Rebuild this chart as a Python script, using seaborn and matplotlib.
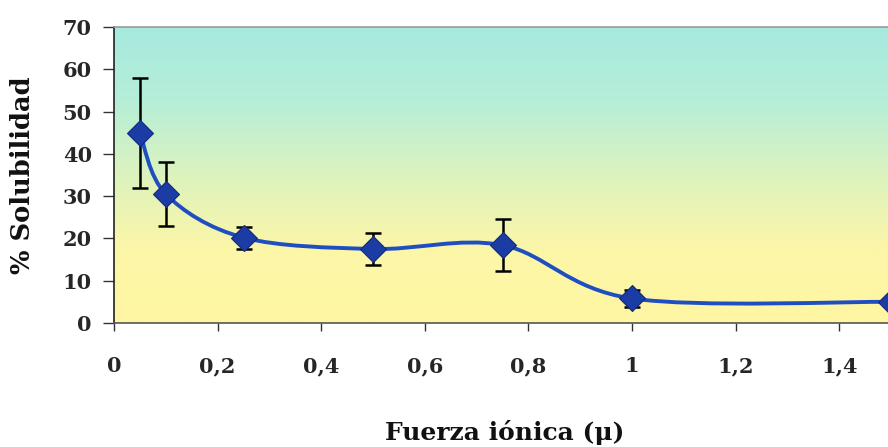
import numpy as np
import matplotlib
matplotlib.use("Agg")
import matplotlib.pyplot as plt
from matplotlib.path import Path
from matplotlib.patches import PathPatch
from matplotlib.colors import LinearSegmentedColormap
import seaborn as sns
import pandas as pd

# Solubility vs ionic strength
fuerza_ionica = [0.05, 0.1, 0.25, 0.5, 0.75, 1.0, 1.5]
solubilidad = [45.0, 30.5, 20.2, 17.5, 18.4, 5.8, 5.0]
error = [13.0, 7.5, 2.6, 3.8, 6.2, 1.9, 1.0]

x_ticks = [0, 0.2, 0.4, 0.6, 0.8, 1.0, 1.2, 1.4]
x_tick_labels = ["0", "0,2", "0,4", "0,6", "0,8", "1", "1,2", "1,4"]
y_ticks = [0, 10, 20, 30, 40, 50, 60, 70]

df = pd.DataFrame({"mu": fuerza_ionica, "sol": solubilidad, "err": error})

sns.set_theme(style="white")
plt.rcParams["font.family"] = ["DejaVu Serif"]
plt.rcParams["font.weight"] = "bold"

W, H = 888, 447
fig = plt.figure(figsize=(W / 100, H / 100), dpi=100)
fig.patch.set_facecolor("white")
left, top, bottom = 114, 27, 323
x_max = 1.5
px_per_unit = 518
ax_w = x_max * px_per_unit
ax_h = bottom - top
ax = fig.add_axes([left / W, (H - bottom) / H, ax_w / W, ax_h / H])

ax.set_xlim(0, x_max)
ax.set_ylim(0, 70)

# vertical cyan-to-yellow background
cmap = LinearSegmentedColormap.from_list(
    "fondo",
    [(0.0, "#fff6a2"), (0.25, "#fcf6a8"), (0.5, "#dcf3be"),
     (0.75, "#b6eed8"), (1.0, "#a6eadf")])
grad = np.linspace(0, 1, 256).reshape(-1, 1)
ax.imshow(grad, cmap=cmap, aspect="auto", origin="lower",
          extent=[0, x_max, 0, 70], zorder=0)

# smoothed connecting curve (cubic Bezier through the points)
pts = np.column_stack([fuerza_ionica, solubilidad])
n = len(pts)
verts = [tuple(pts[0])]
codes = [Path.MOVETO]
for i in range(n - 1):
    p_prev = pts[max(i - 1, 0)]
    p0 = pts[i]
    p1 = pts[i + 1]
    p_next = pts[min(i + 2, n - 1)]
    c1 = p0 + (p1 - p_prev) / 6.0
    c2 = p1 - (p_next - p0) / 6.0
    verts += [tuple(c1), tuple(c2), tuple(p1)]
    codes += [Path.CURVE4] * 3
ax.add_patch(PathPatch(Path(verts, codes), facecolor="none",
                       edgecolor="#1f4ec2", lw=2.8, zorder=2,
                       capstyle="round", joinstyle="round"))

ax.errorbar(df["mu"], df["sol"], yerr=df["err"], fmt="none",
            ecolor="black", elinewidth=1.8, capsize=5.5, capthick=1.8,
            zorder=3)
sns.scatterplot(data=df, x="mu", y="sol", marker="D", s=175,
                color="#1b3ca4", edgecolor="#122c80", linewidth=0.8,
                ax=ax, zorder=4, legend=False)

ax.set_xticks(x_ticks)
ax.set_xticklabels(x_tick_labels)
ax.set_yticks(y_ticks)
ax.tick_params(axis="x", direction="out", length=6, width=1.0,
               color="#333333", pad=18, labelsize=15)
ax.tick_params(axis="y", direction="out", length=8, width=1.0,
               color="#333333", pad=8, labelsize=15)
ax.tick_params(left=True, bottom=True)
for lab in ax.get_xticklabels() + ax.get_yticklabels():
    lab.set_fontweight("bold")

for side in ["left", "bottom", "top"]:
    ax.spines[side].set_visible(True)
    ax.spines[side].set_linewidth(1.2)
ax.spines["left"].set_color("#222222")
ax.spines["bottom"].set_color("#555555")
ax.spines["top"].set_color("#999999")
ax.spines["right"].set_visible(False)

ax.set_xlabel("Fuerza iónica (μ)", fontsize=18, fontweight="bold",
              color="#111111")
ax.set_ylabel("% Solubilidad", fontsize=18.5, fontweight="bold",
              color="#111111")
ax.xaxis.set_label_coords((505 - left) / ax_w, (bottom - 420) / ax_h)
ax.yaxis.set_label_coords((35 - left) / ax_w, 0.5)

fig.savefig("out.png", dpi=100)
